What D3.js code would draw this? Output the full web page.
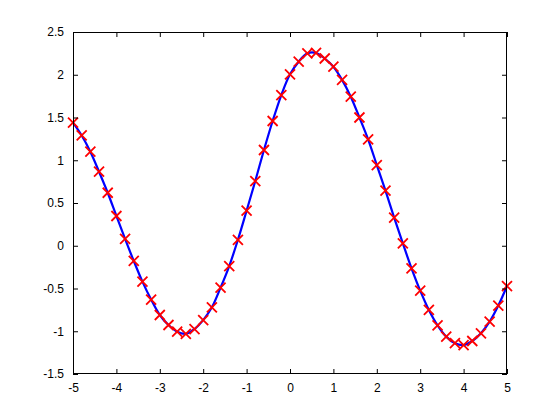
<!DOCTYPE html>
<html>
<head>
<meta charset="utf-8">
<script src="https://cdn.jsdelivr.net/npm/d3@7"></script>
<style>
html,body{margin:0;padding:0;background:#fff;}
svg{display:block;}
</style>
</head>
<body>
<svg id="chart" width="560" height="420"></svg>
<script>
const xValues = [-5,-4.8,-4.6,-4.4,-4.2,-4,-3.8,-3.6,-3.4,-3.2,-3,-2.8,-2.6,-2.4,-2.2,-2,-1.8,-1.6,-1.4,-1.2,-1,-0.8,-0.6,-0.4,-0.2,0,0.2,0.4,0.6,0.8,1,1.2,1.4,1.6,1.8,2,2.2,2.4,2.6,2.8,3,3.2,3.4,3.6,3.8,4,4.2,4.4,4.6,4.8,5];
const yValues = [1.44,1.29,1.10,0.866,0.62,0.348,0.08,-0.178,-0.42,-0.63,-0.81,-0.927,-1.005,-1.03,-0.974,-0.87,-0.72,-0.49,-0.237,0.07,0.41,0.757,1.12,1.459,1.763,2.005,2.153,2.25,2.255,2.19,2.094,1.94,1.743,1.50,1.245,0.944,0.644,0.328,0.028,-0.264,-0.525,-0.751,-0.931,-1.063,-1.14,-1.161,-1.114,-1.024,-0.888,-0.70,-0.471];
const xTicks = [-5,-4,-3,-2,-1,0,1,2,3,4,5];
const yTicks = [-1.5,-1,-0.5,0,0.5,1,1.5,2,2.5];
const xTickLabels = ["-5","-4","-3","-2","-1","0","1","2","3","4","5"];
const yTickLabels = ["-1.5","-1","-0.5","0","0.5","1","1.5","2","2.5"];

const data = xValues.map((x,i)=>({x, y:yValues[i]}));

const L=73, R=507, T=32, B=374;
const svg = d3.select("#chart");
const x = d3.scaleLinear().domain([-5,5]).range([L,R]);
const y = d3.scaleLinear().domain([-1.5,2.5]).range([B,T]);

const font = "Helvetica, 'Liberation Sans', Arial, sans-serif";

const g = svg.append("g");

g.append("path").datum(data)
  .attr("fill","none").attr("stroke","#0000ff").attr("stroke-width",2.2)
  .attr("d", d3.line().x(d=>x(d.x)).y(d=>y(d.y)).curve(d3.curveCatmullRom));

const s = 5;
const marks = g.append("g").attr("stroke","#ff0000").attr("stroke-width",1.8).attr("fill","none");
marks.selectAll("path").data(data).join("path")
  .attr("d", d => {
    const cx=x(d.x), cy=y(d.y);
    return `M${cx-s},${cy-s}L${cx+s},${cy+s}M${cx-s},${cy+s}L${cx+s},${cy-s}`;
  });

// axes
const tickLen = 5;
const xAxisB = d3.axisBottom(x).tickValues(xTicks).tickSizeInner(-tickLen).tickSizeOuter(0)
  .tickPadding(9).tickFormat((d,i)=>xTickLabels[i]);
const xAxisT = d3.axisTop(x).tickValues(xTicks).tickSizeInner(-tickLen).tickSizeOuter(0).tickFormat("");
const yAxisL = d3.axisLeft(y).tickValues(yTicks).tickSizeInner(-tickLen).tickSizeOuter(0)
  .tickPadding(9).tickFormat((d,i)=>yTickLabels[i]);
const yAxisR = d3.axisRight(y).tickValues(yTicks).tickSizeInner(-tickLen).tickSizeOuter(0).tickFormat("");

function style(sel){
  sel.select(".domain").remove();
  sel.selectAll("line").attr("stroke","#000").attr("stroke-width",1);
  sel.selectAll("text").attr("fill","#000").style("font-family",font).style("font-size","12px");
}
svg.append("g").attr("transform",`translate(0,${B})`).call(xAxisB).call(style);
svg.append("g").attr("transform",`translate(0,${T})`).call(xAxisT).call(style);
svg.append("g").attr("transform",`translate(${L},0)`).call(yAxisL).call(style);
svg.append("g").attr("transform",`translate(${R},0)`).call(yAxisR).call(style);

svg.append("rect").attr("x",L+0.5).attr("y",T+0.5).attr("width",R-L-1).attr("height",B-T-1)
  .attr("fill","none").attr("stroke","#000").attr("stroke-width",1);
</script>
</body>
</html>
